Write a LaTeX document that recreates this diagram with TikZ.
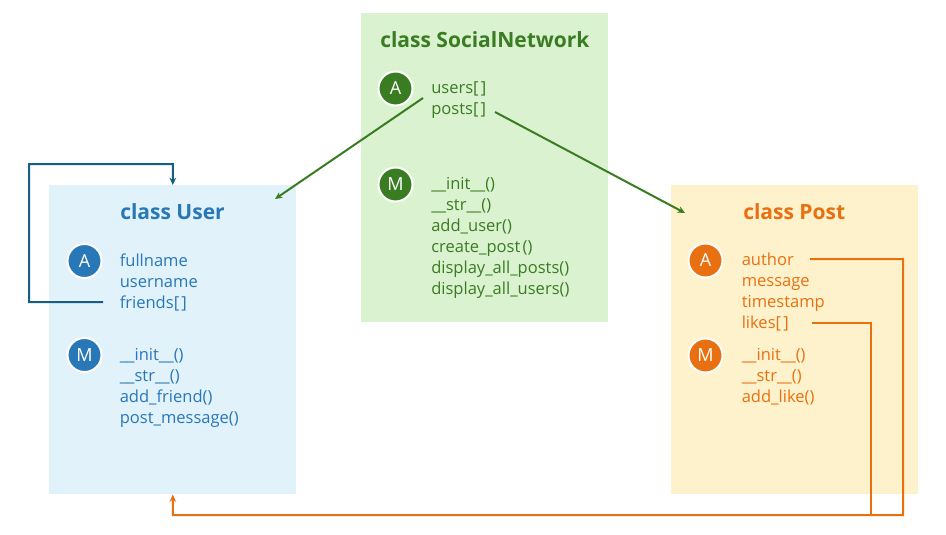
\documentclass[tikz,border=0pt]{standalone}
\usepackage{fontspec}
\setmainfont{Open Sans}
\usetikzlibrary{arrows.meta}
\definecolor{userfill}{HTML}{E1F2FB}
\definecolor{userink}{HTML}{2878B8}
\definecolor{userline}{HTML}{156082}
\definecolor{netfill}{HTML}{DAF2D0}
\definecolor{netink}{HTML}{3A7C22}
\definecolor{postfill}{HTML}{FDF2CC}
\definecolor{postink}{HTML}{E97010}
\newcommand{\tightspace}{\spaceskip=1.7pt\relax}
\tikzset{
	classbox/.style={minimum width=185.25pt,minimum height=231.75pt,inner sep=0,anchor=north west},
	badge/.style={circle,draw=white,line width=1.5pt,minimum size=25.5pt,inner sep=0,text=white,font=\fontsize{13.5}{14}\selectfont},
	title/.style={anchor=base west,inner sep=0,font=\fontsize{15.75}{16}\selectfont\bfseries},
	member/.style={anchor=base west,inner sep=0,font=\fontsize{12.4}{13}\selectfont},
	link/.style={line width=1.5pt,-{Stealth[length=5.5pt,width=5pt]}}
}
\begin{document}
\begin{tikzpicture}[x=.75pt,y=-.75pt]
	\useasboundingbox (0,0) rectangle (946,535);
	% the three boxes
	\node[classbox,fill=userfill] (user) at (49,185) {};
	\node[classbox,fill=netfill] (net) at (361,13) {};
	\node[classbox,fill=postfill] (post) at (671,185) {};
	% titles
	\node[title,text=userink] (usertitle) at (120,219) {class User};
	\node[title,text=netink] (nettitle) at (380,48) {class SocialNetwork};
	\node[title,text=postink] (posttitle) at (743,219) {class Post};
	% badges
	\node[badge,fill=userink] (usera) at (84.5,261) {A};
	\node[badge,fill=userink] (userm) at (84.5,355) {M};
	\node[badge,fill=netink] (neta) at (395.5,88.5) {A};
	\node[badge,fill=netink] (netm) at (395.5,184.5) {M};
	\node[badge,fill=postink] (posta) at (705.5,260.5) {A};
	\node[badge,fill=postink] (postm) at (705.5,355.5) {M};
	% members
	\foreach \name/\txt/\ypos in {fullname/fullname/266,username/username/287,friends/{friends[ ]}/308,
		uinit/{\_\_init\_\_()}/360,ustr/{\_\_str\_\_()}/381,addfriend/{add\_friend()}/402,postmessage/{post\_message()}/423}
		\node[member,text=userink] (\name) at (119.5,\ypos) {\tightspace\txt};
	\foreach \name/\txt/\ypos in {users/{users[ ]}/93.5,posts/{posts[ ]}/114.5,
		ninit/{\_\_init\_\_()}/189.5,nstr/{\_\_str\_\_()}/210.5,adduser/{add\_user()}/231.5,createpost/{create\_post ()}/252.5,
		allposts/{display\_all\_posts()}/273.5,allusers/{display\_all\_users()}/294.5}
		\node[member,text=netink] (\name) at (431,\ypos) {\tightspace\txt};
	\foreach \name/\txt/\ypos in {author/author/265,message/message/286,timestamp/timestamp/307,likes/{likes[ ]}/328,
		pinit/{\_\_init\_\_()}/360,pstr/{\_\_str\_\_()}/381,addlike/{add\_like()}/402}
		\node[member,text=postink] (\name) at (741.5,\ypos) {\tightspace\txt};
	% free ends of the connectors
	\coordinate (friendsend) at (103,302);
	\coordinate (usersend) at (423,98);
	\coordinate (postsend) at (495,112);
	\coordinate (authorend) at (810,259);
	\coordinate (likesend) at (812,323);
	\coordinate (usertip) at (275,199);
	\coordinate (posttip) at (685,213);
	\coordinate (joint) at (871,515);
	% connectors
	\draw[link,draw=userline] (friendsend)--(29,302)--(29,164)--(173,164)--(user.north);
	\draw[link,draw=netink] (usersend)--(usertip);
	\draw[link,draw=netink] (postsend)--(posttip);
	\draw[link,draw=postink] (authorend)--(903,259)--(903,515)--(173,515)--(user.south);
	\draw[line width=1.5pt,draw=postink] (likesend)--(871,323)--(joint);
\end{tikzpicture}
\end{document}
